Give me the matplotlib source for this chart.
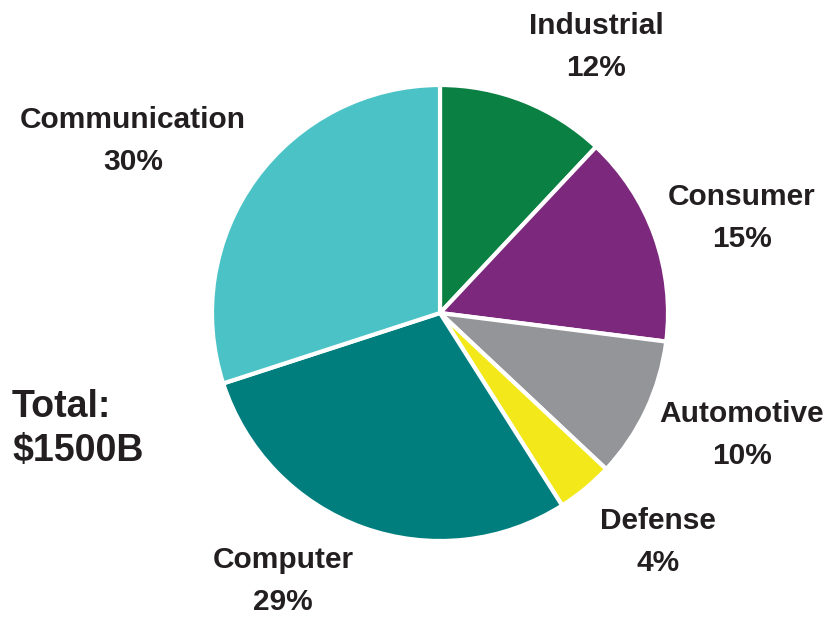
import matplotlib
matplotlib.use("Agg")
import matplotlib.pyplot as plt

categories = ["Industrial", "Consumer", "Automotive", "Defense", "Computer", "Communication"]
values = [12, 15, 10, 4, 29, 30]
colors = ["#0B8043", "#7B287D", "#939598", "#F3E91A", "#007E7E", "#4BC3C6"]
total_label = "Total:\n$1500B"

W, H = 829, 619
fig = plt.figure(figsize=(W / 100, H / 100), dpi=100)
plt.rcParams['font.family'] = ['Liberation Sans', 'DejaVu Sans']

cx, cy, r = 440, 313, 228
ax = fig.add_axes([(cx - r) / W, (H - cy - r) / H, 2 * r / W, 2 * r / H])
ax.pie(values, colors=colors, startangle=90, counterclock=False,
       wedgeprops=dict(edgecolor="white", linewidth=3))
ax.set_xlim(-1, 1)
ax.set_ylim(-1, 1)
ax.set_aspect("equal")
ax.axis("off")

label_pos = {
    "Industrial": (596, 47),
    "Consumer": (742, 218),
    "Automotive": (742, 435),
    "Defense": (658, 542),
    "Computer": (283, 581),
    "Communication": (133, 141),
}
for cat, v in zip(categories, values):
    x, y = label_pos[cat]
    fig.text(x / W, 1 - y / H, f"{cat}\n{v}%", ha="center", va="center",
             fontsize=21.5, fontweight="bold", color="#231F20", linespacing=1.68)

fig.text(12 / W, 1 - 429 / H, total_label, ha="left", va="center",
         fontsize=27, fontweight="bold", color="#231F20", linespacing=1.3)

fig.savefig("out.png", dpi=100)
